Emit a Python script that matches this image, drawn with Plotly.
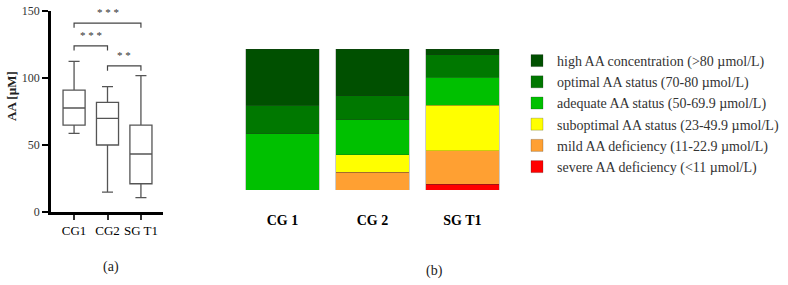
import plotly.graph_objects as go

# ---------------- data ----------------
# (a) box plot summary statistics, AA [µM]
box_groups = ["CG1", "CG2", "SG T1"]
box_lowerfence = [58.7, 14.9, 10.7]
box_q1 = [64.9, 50.0, 21.1]
box_median = [77.6, 69.9, 43.3]
box_q3 = [91.0, 81.8, 64.9]
box_upperfence = [112.4, 93.5, 101.7]

# significance brackets: (from index, to index, bracket y, label)
sig_from = [0, 0, 1]
sig_to = [2, 1, 2]
sig_y = [141, 124, 109]
sig_label = ["* * *", "* * *", "* *"]

# (b) stacked bars, percentage of subjects per AA status category
bar_groups = ["CG 1", "CG 2", "SG T1"]
status_names = [
    "severe AA deficiency (<11 µmol/L)",
    "mild AA deficiency (11-22.9 µmol/L)",
    "suboptimal AA status (23-49.9 µmol/L)",
    "adequate AA status (50-69.9 µmol/L)",
    "optimal AA status (70-80 µmol/L)",
    "high AA concentration (>80 µmol/L)",
]
status_colors = ["#ff0000", "#ffa032", "#ffff00", "#00c000", "#007800", "#005000"]
severe = [0, 0, 4]
mild = [0, 12.5, 24]
suboptimal = [0, 12.5, 32]
adequate = [40, 25, 20]
optimal = [20, 16.7, 16]
high = [40, 33.3, 4]
status_values = [severe, mild, suboptimal, adequate, optimal, high]

SERIF = "Liberation Serif"
W, H = 788, 285


def px_x(p):
    return p / W


def px_y(p):
    return 1 - p / H


fig = go.Figure()

# ---------------- (a) box plot ----------------
fig.add_trace(go.Box(
    x=box_groups,
    lowerfence=box_lowerfence, q1=box_q1, median=box_median,
    q3=box_q3, upperfence=box_upperfence,
    fillcolor="white",
    line=dict(color="#555555", width=1.3),
    whiskerwidth=0.5,
    boxpoints=False,
    showlegend=False,
    xaxis="x", yaxis="y",
    hoverinfo="skip",
))

shapes = []
annotations = []
for a, b, yv, lab in zip(sig_from, sig_to, sig_y, sig_label):
    shapes.append(dict(type="path", xref="x", yref="y",
                       path=f"M {a},{yv-3.5} L {a},{yv} L {b},{yv} L {b},{yv-3.5}",
                       line=dict(color="#444444", width=1.2)))
    annotations.append(dict(x=(a + b) / 2, y=yv + 2, xref="x", yref="y",
                            text=lab, showarrow=False, yanchor="bottom",
                            font=dict(family=SERIF, size=11, color="#333333")))

# ---------------- (b) stacked bars ----------------
n_status = len(status_names)
for i, (name, col, vals) in enumerate(zip(status_names, status_colors, status_values)):
    fig.add_trace(go.Bar(
        x=bar_groups, y=vals, name=name,
        marker=dict(color=col, line=dict(color="rgba(40,40,40,0.4)", width=0.6)),
        xaxis="x2", yaxis="y2",
        hoverinfo="skip",
        legendrank=n_status - i,
    ))

annotations += [
    dict(text="<b>AA [µM]</b>", x=px_x(12), y=px_y(96), xref="paper", yref="paper",
         xanchor="center", yanchor="middle",
         textangle=-90, showarrow=False, font=dict(family=SERIF, size=13, color="#222222")),
    dict(text="(a)", x=px_x(111), y=px_y(267), xref="paper", yref="paper",
         xanchor="center", yanchor="middle",
         showarrow=False, font=dict(family=SERIF, size=14, color="#222222")),
    dict(text="(b)", x=px_x(434), y=px_y(271), xref="paper", yref="paper",
         xanchor="center", yanchor="middle",
         showarrow=False, font=dict(family=SERIF, size=14, color="#222222")),
]

fig.update_layout(
    width=W, height=H,
    margin=dict(l=0, r=0, t=0, b=0, autoexpand=False),
    paper_bgcolor="white", plot_bgcolor="white",
    barmode="stack", bargap=0.185, boxgap=0.34, boxgroupgap=0,
    xaxis=dict(domain=[px_x(51), px_x(163)], range=[-0.69, 2.66],
               showline=True, linecolor="black", linewidth=2.5,
               ticks="outside", ticklen=5, tickwidth=1.5, tickcolor="#333333",
               tickfont=dict(family=SERIF, size=13, color="black"),
               showgrid=False, zeroline=False, anchor="y", automargin=False),
    yaxis=dict(domain=[px_y(212), px_y(11)], range=[0, 150],
               tickvals=[0, 50, 100, 150],
               showline=True, linecolor="black", linewidth=2.5,
               ticks="outside", ticklen=6, tickwidth=2, tickcolor="black",
               tickfont=dict(family=SERIF, size=12, color="#333333"),
               showgrid=False, zeroline=False, anchor="x", automargin=False),
    xaxis2=dict(domain=[px_x(237.4), px_x(507.4)], range=[-0.5, 2.5],
                showline=False, ticks="", showgrid=False, zeroline=False,
                tickfont=dict(family=SERIF, size=14, color="black", weight="bold"),
                ticklabelstandoff=20, anchor="y2", automargin=False),
    yaxis2=dict(domain=[px_y(190), px_y(49)], range=[0, 100],
                visible=False, anchor="x2", automargin=False),
    legend=dict(x=px_x(517), y=px_y(45), xanchor="left", yanchor="top",
                traceorder="normal", itemwidth=30,
                font=dict(family=SERIF, size=14, color="#333333"),
                bgcolor="rgba(0,0,0,0)"),
    shapes=shapes,
    annotations=annotations,
)

fig.write_html("out.html",
               config={"displayModeBar": False},
               post_script="document.body.style.margin='0';document.body.style.overflow='hidden';")
